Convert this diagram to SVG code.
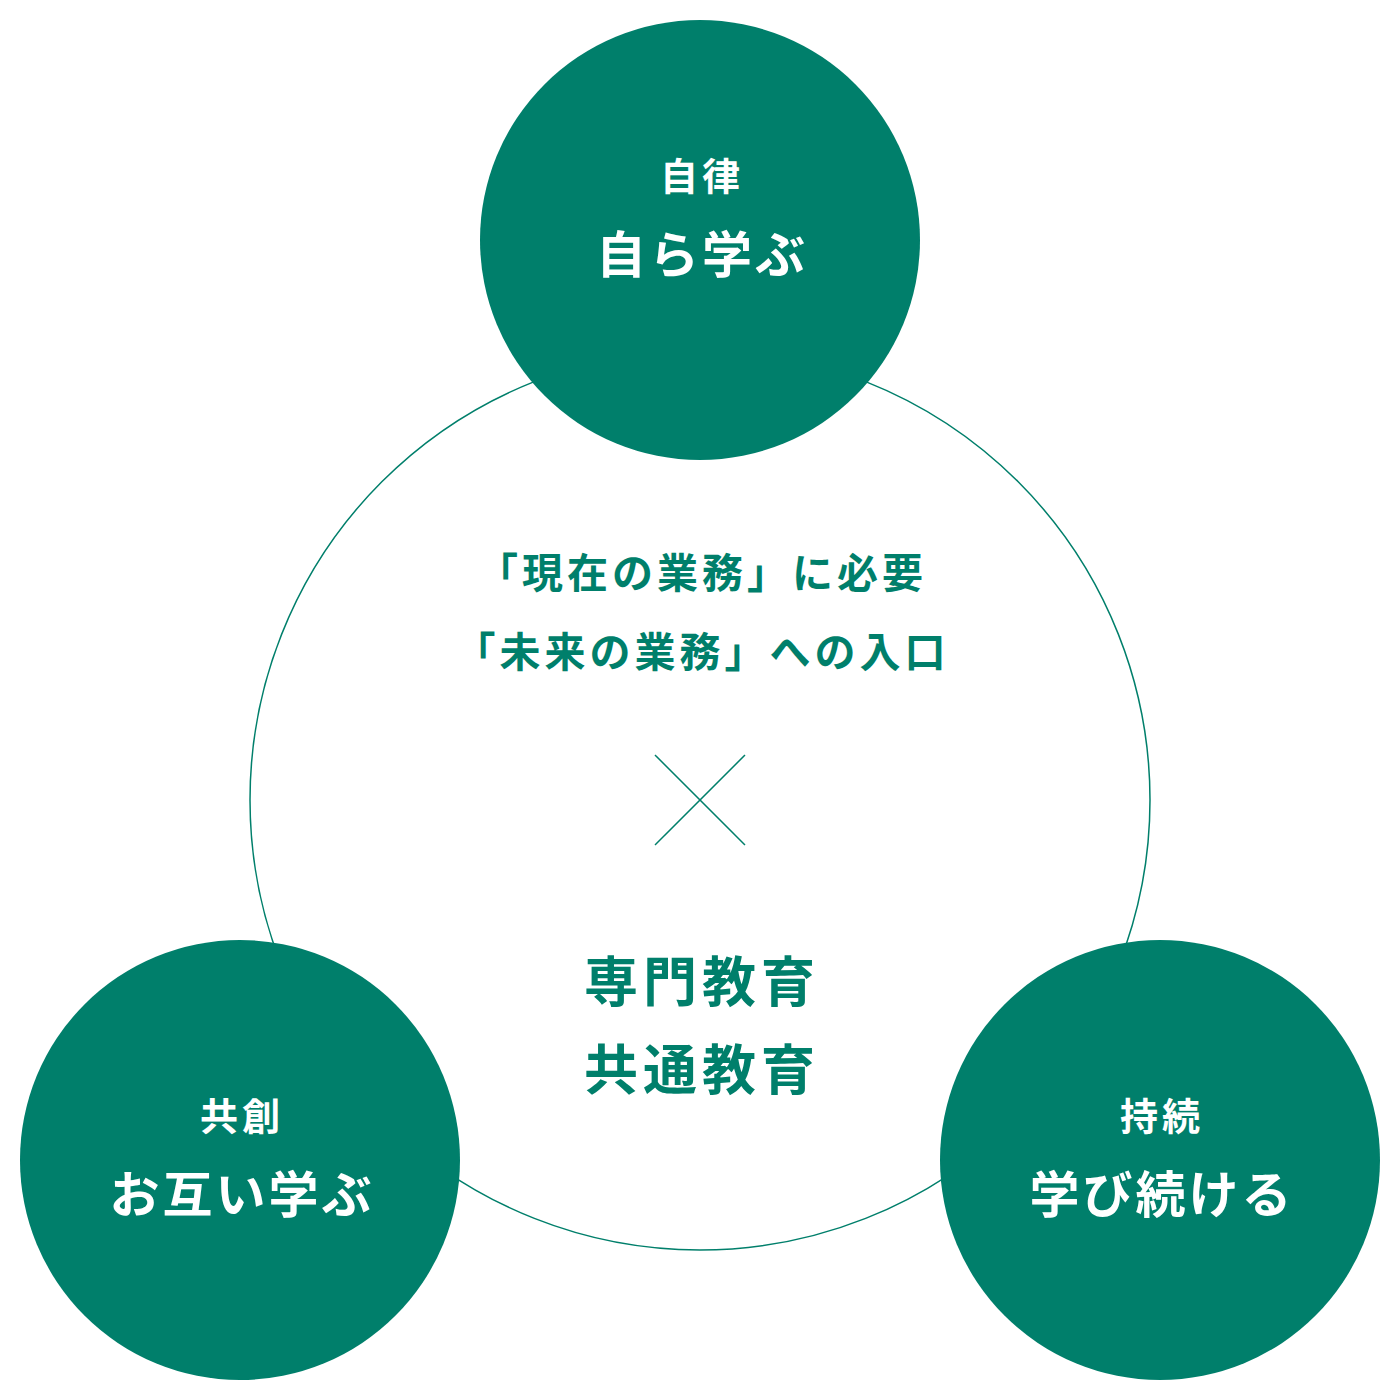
<svg xmlns="http://www.w3.org/2000/svg" width="1400" height="1400" viewBox="0 0 1400 1400">
  <style>
    text { font-family: "Noto Sans CJK JP", "Noto Sans CJK SC", sans-serif; font-weight: 700; text-anchor: middle; }
    .node { fill: #007F6B; }
    .sub { fill: #ffffff; font-size: 38px; letter-spacing: 4px; }
    .main { fill: #ffffff; font-size: 50px; letter-spacing: 3px; }
    .mid { fill: #007F6B; font-size: 41px; letter-spacing: 4px; }
    .big { fill: #007F6B; font-size: 54px; letter-spacing: 5px; }
    .line { fill: none; stroke: #007F6B; stroke-width: 1.5; }
  </style>
  <rect width="1400" height="1400" fill="#ffffff"/>
  <g id="center">
    <circle class="line" cx="700" cy="800" r="450"/>
    <text class="mid" x="702" y="588">「現在の業務」に必要</text>
    <text class="mid" x="702" y="667">「未来の業務」への入口</text>
    <line class="line" x1="655" y1="755" x2="745" y2="845" stroke-width="2"/>
    <line class="line" x1="745" y1="755" x2="655" y2="845" stroke-width="2"/>
    <text class="big" x="702" y="1002">専門教育</text>
    <text class="big" x="702" y="1090">共通教育</text>
  </g>
  <g id="node-top">
    <circle class="node" cx="700" cy="240" r="220"/>
    <text class="sub" x="702" y="190">自律</text>
    <text class="main" x="702" y="273">自ら学ぶ</text>
  </g>
  <g id="node-left">
    <circle class="node" cx="240" cy="1160" r="220"/>
    <text class="sub" x="242" y="1130">共創</text>
    <text class="main" x="242" y="1213">お互い学ぶ</text>
  </g>
  <g id="node-right">
    <circle class="node" cx="1160" cy="1160" r="220"/>
    <text class="sub" x="1162" y="1130">持続</text>
    <text class="main" x="1162" y="1213">学び続ける</text>
  </g>
</svg>
